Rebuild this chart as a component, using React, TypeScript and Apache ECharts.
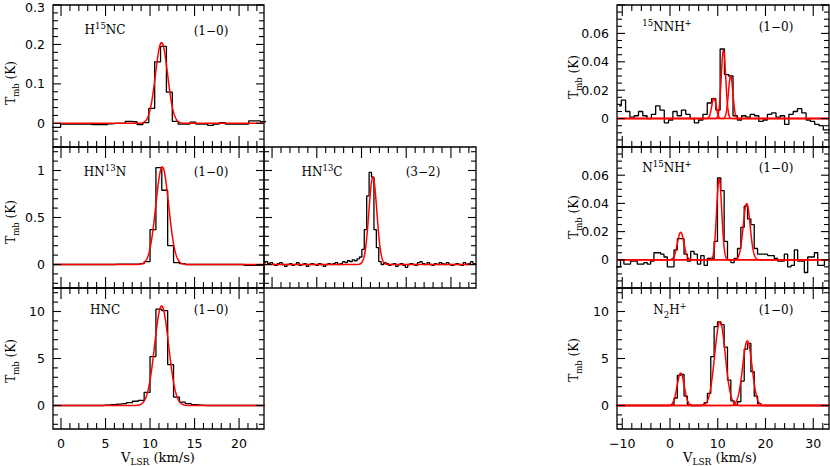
import React, { useEffect, useRef } from "react";
import * as echarts from "echarts";

// ================= DATA =================
// Each spectrum: centre of first channel (km/s), channel width (km/s), Tmb values (K)
const hncStart = -0.89;
const hncWidth = 0.66;
const hncTmb = [0, 0, 0, 0, 0, 0, 0, 0, 0, 0.05, 0.1, 0.15, 0.2, 0.3, 0.45, 0.55, 1.4, 5.2, 10.25, 10.1, 4.35, 0.9, 0.35, 0.2, 0.1, 0.05, 0, 0, 0, 0, 0, 0, 0, 0, 0, 0, 0];
// Gaussian fit components: [amplitude K, centre km/s, FWHM km/s]
const hncFit = [[10.6, 11.3, 1.85]];

const hn13nStart = -0.89;
const hn13nWidth = 0.66;
const hn13nTmb = [0, 0, 0, 0, 0, 0, 0, 0, 0, 0, 0, 0.005, 0.005, 0.005, 0.005, 0.01, 0.03, 0.37, 1.03, 0.79, 0.2, 0.02, 0.01, 0, 0, 0, 0, 0, 0, 0, 0, 0, 0, -0.01, -0.01, -0.01, -0.01];
const hn13nFit = [[1.04, 11.37, 1.7]];

const h15ncStart = -1.03;
const h15ncWidth = 0.66;
const h15ncTmb = [-0.01, -0.01, -0.002, -0.002, -0.002, -0.002, -0.002, -0.003, -0.003, -0.003, -0.001, 0, 0, 0.005, 0.004, -0.003, 0.002, 0.038, 0.156, 0.195, 0.079, 0.005, -0.002, -0.002, 0.003, -0.002, -0.002, -0.005, -0.002, 0.002, -0.002, -0.002, -0.002, -0.002, 0.006, 0.006, 0.004, 0.004];
const h15ncFit = [[0.205, 11.29, 1.6]];

const hn13cStart = -0.895;
const hn13cWidth = 0.27;
const hn13cTmb = [0.02, 0.03, 0.01, 0.02, 0.0, -0.01, 0.01, 0.02, 0.0, -0.02, 0.0, 0.01, -0.01, 0.0, 0.02, -0.01, 0.0, 0.01, -0.02, 0.0, 0.01, 0.0, -0.01, 0.01, 0.0, -0.02, 0.0, 0.01, 0.0, 0.01, 0.02, 0.0, 0.01, 0.03, 0.02, 0.04, 0.03, 0.05, 0.04,
  0.06, 0.08, 0.16, 0.37, 0.73, 0.98, 0.93, 0.37, 0.18, 0.03,
  0.0, 0.02, 0.01, -0.01, 0.0, 0.01, -0.02, 0.0, 0.01, -0.01, -0.03, 0.0, 0.01, 0.0, -0.01, 0.02, 0.03, 0.01, 0.0, 0.02, 0.0, -0.01, 0.01, 0.0, 0.02, 0.01, 0.0, 0.02, 0.0, -0.01, 0.0, 0.01, 0.0, -0.01, 0.02, 0.0, 0.01, 0.03, 0.01, 0.0];
const hn13cFit = [[0.93, 11.27, 1.05]];

const n15nnhStart = -10.65;
const n15nnhWidth = 0.9;
const n15nnhTmb = [0.009, 0.013, 0.005, 0.001, 0.002, 0.005, 0.002, 0, 0.003, 0.009, 0.006, -0.003, -0.001, 0.005, 0.002, 0.006, 0.003, 0, -0.003, -0.001, 0.003, 0.011, 0.014, 0.006, 0.049, 0.031, 0.03, 0.002, -0.001, 0.002, 0.001, 0.003, 0.002, -0.002, -0.001, 0.003, 0.004, 0.001, 0.002, -0.004, 0.003, 0.005, 0.007, 0.004, -0.001, -0.002, -0.004, -0.005, -0.008, -0.008];
const n15nnhFit = [[0.0144, 9.2, 1.1], [0.0485, 11.2, 1.1], [0.03, 12.7, 1.1]];

const nn15hStart = -11.41;
const nn15hWidth = 0.7;
const nn15hTmb = [-0.005, -0.005, 0.0, -0.003, -0.003, -0.001, -0.001, -0.003, -0.003, -0.002, -0.003, -0.001, 0.005, 0.005, 0.004, 0.002, -0.005, -0.005, 0.007, 0.015, 0.015, 0.004,
  -0.001, 0.006, 0.004, -0.003, 0.003, -0.004, 0.001, 0.001, 0.013, 0.058, 0.049, 0.013, 0.0, -0.002, 0.001, 0.008, 0.023, 0.038, 0.029, 0.025, 0.008,
  0.004, 0.004, 0.004, 0.003, 0.003, 0.001, -0.001, -0.001, 0.004, -0.005, -0.004, 0.007, -0.001, -0.001, -0.009, 0.002, 0.002, 0.005, -0.004, -0.004, 0.0, 0.0];
const nn15hFit = [[0.0196, 2.24, 1.6], [0.0577, 10.3, 1.26], [0.04, 16.06, 1.7]];

const n2hStart = -11.41;
const n2hWidth = 0.7;
const n2hTmb = [0, 0, 0, 0, 0, 0, 0, 0, 0, 0, 0, 0, 0, 0, 0, 0, 0,
  0.05, 0.8, 3.2, 3.3, 1.0, 0.1, 0, 0, 0, 0.05, 0.3, 1.3, 5.2, 8.4, 8.9, 8.6, 6.2, 2.7, 0.5, 0.1, 0.4, 2.6, 6.0, 6.6, 3.6, 1.0, 0.2,
  0, 0, 0, 0, 0, 0, 0, 0, 0, 0, 0, 0, 0, 0, 0, 0, 0, 0, 0, 0, 0];
const n2hFit = [[3.46, 2.24, 1.75], [8.93, 10.47, 2.6], [6.89, 16.2, 2.3]];

// Tick label values
const leftXLabels = [0, 5, 10, 15, 20];
const rightXLabels = [-10, 0, 10, 20, 30];
const h15ncYLabels = [0, 0.1, 0.2, 0.3];
const hn13nYLabels = [0, 0.5, 1];
const hncYLabels = [0, 5, 10];
const n15nnhYLabels = [0, 0.02, 0.04, 0.06];
const nn15hYLabels = [0, 0.02, 0.04, 0.06];
const n2hYLabels = [0, 5, 10];

// ================= LAYOUT =================
const LX = { min: -0.9, max: 22.8, major: 5, minor: 1 };
const RX = { min: -11.1, max: 33.3, major: 10, minor: 2 };

const panels = [
  { left: 53, top: 5, width: 211, height: 142, x: LX, y: { min: -0.06, max: 0.3, major: 0.1, minor: 0.02 }, start: h15ncStart, dv: h15ncWidth, tmb: h15ncTmb, fit: h15ncFit, xl: null, yl: h15ncYLabels },
  { left: 53, top: 147, width: 211, height: 141, x: LX, y: { min: -0.25, max: 1.25, major: 0.5, minor: 0.1 }, start: hn13nStart, dv: hn13nWidth, tmb: hn13nTmb, fit: hn13nFit, xl: null, yl: hn13nYLabels },
  { left: 53, top: 288, width: 211, height: 141, x: LX, y: { min: -2.5, max: 12.5, major: 5, minor: 1 }, start: hncStart, dv: hncWidth, tmb: hncTmb, fit: hncFit, xl: leftXLabels, yl: hncYLabels },
  { left: 264, top: 147, width: 212, height: 141, x: LX, y: { min: -0.25, max: 1.25, major: 0.5, minor: 0.1 }, start: hn13cStart, dv: hn13cWidth, tmb: hn13cTmb, fit: hn13cFit, xl: null, yl: null },
  { left: 617, top: 5, width: 212, height: 142, x: RX, y: { min: -0.02, max: 0.08, major: 0.02, minor: 0.005 }, start: n15nnhStart, dv: n15nnhWidth, tmb: n15nnhTmb, fit: n15nnhFit, xl: null, yl: n15nnhYLabels },
  { left: 617, top: 147, width: 212, height: 141, x: RX, y: { min: -0.02, max: 0.08, major: 0.02, minor: 0.005 }, start: nn15hStart, dv: nn15hWidth, tmb: nn15hTmb, fit: nn15hFit, xl: null, yl: nn15hYLabels },
  { left: 617, top: 288, width: 212, height: 141, x: RX, y: { min: -2.5, max: 12.5, major: 5, minor: 1 }, start: n2hStart, dv: n2hWidth, tmb: n2hTmb, fit: n2hFit, xl: rightXLabels, yl: n2hYLabels },
];

const SERIF = "DejaVu Serif";
const SANS = "DejaVu Sans";

const richTitle = {
  a: { fontFamily: SERIF, fontSize: 12, lineHeight: 18 },
  s: { fontFamily: SERIF, fontSize: 8.5, lineHeight: 9, verticalAlign: "top" },
  b: { fontFamily: SERIF, fontSize: 8.5, lineHeight: 9, verticalAlign: "bottom" },
};
const richAxis = {
  a: { fontFamily: SERIF, fontSize: 13, lineHeight: 19 },
  b: { fontFamily: SERIF, fontSize: 9, lineHeight: 10, verticalAlign: "bottom" },
};
const richTmb = {
  a: { fontFamily: SERIF, fontSize: 12, lineHeight: 18 },
  b: { fontFamily: SERIF, fontSize: 8.5, lineHeight: 9, verticalAlign: "bottom" },
};
const richTick = {
  top: { fontFamily: SANS, fontSize: 12.5, padding: [4, 0, 0, 0] },
};

function label(x: number, y: number, text: string, rich: any, rotate = false) {
  return {
    type: "text",
    x,
    y,
    rotation: rotate ? Math.PI / 2 : 0,
    silent: true,
    z: 20,
    style: {
      text,
      rich,
      fill: "#000",
      font: `12px ${SERIF}`,
      align: "center",
      verticalAlign: "middle",
      textAlign: "center",
      textVerticalAlign: "middle",
    },
  };
}

function tickValues(min: number, max: number, step: number) {
  const out: number[] = [];
  const k0 = Math.ceil(min / step - 1e-9);
  const k1 = Math.floor(max / step + 1e-9);
  for (let k = k0; k <= k1; k++) out.push(+(k * step).toFixed(6));
  return out;
}
const isMult = (v: number, m: number) => Math.abs(v / m - Math.round(v / m)) < 1e-6;

function gauss(comp: number[], v: number) {
  const [a, c, w] = comp;
  return a * Math.exp((-4 * Math.LN2 * (v - c) * (v - c)) / (w * w));
}

const fmt = (v: number) => String(v).replace("-", "\u2212");

function buildOption() {
  const grid: any[] = [];
  const xAxis: any[] = [];
  const yAxis: any[] = [];
  const series: any[] = [];

  panels.forEach((p, i) => {
    grid.push({ left: p.left, top: p.top, width: p.width, height: p.height, show: true, borderColor: "#000", borderWidth: 1.3, backgroundColor: "transparent", containLabel: false, outerBoundsMode: "none" });
    xAxis.push({
      type: "value", gridIndex: i, min: p.x.min, max: p.x.max,
      axisLine: { show: false }, axisTick: { show: false }, splitLine: { show: false },
      axisLabel: p.xl ? { show: true, customValues: p.xl, margin: 8, color: "#000", fontFamily: SANS, fontSize: 12.5, formatter: fmt } : { show: false },
    });
    const ymaxLabel = p.yl ? p.yl[p.yl.length - 1] : null;
    yAxis.push({
      type: "value", gridIndex: i, min: p.y.min, max: p.y.max,
      axisLine: { show: false }, axisTick: { show: false }, splitLine: { show: false },
      axisLabel: p.yl
        ? {
            show: true, customValues: p.yl, margin: 8, color: "#000", fontFamily: SANS, fontSize: 12.5, rich: richTick,
            formatter: (v: number) => (Math.abs(v - p.y.max) < 1e-9 && v === ymaxLabel ? `{top|${fmt(v)}}` : fmt(v)),
          }
        : { show: false },
    });

    // observed spectrum, histogram style
    series.push({
      type: "line", xAxisIndex: i, yAxisIndex: i, step: "middle", symbol: "none", showSymbol: false, silent: true, clip: true, z: 2,
      lineStyle: { color: "#000", width: 1.3 },
      data: p.tmb.map((t, k) => [p.start + k * p.dv, t]),
    });
    // gaussian fit components
    p.fit.forEach((comp) => {
      const pts: number[][] = [];
      for (let v = p.x.min; v <= p.x.max + 1e-9; v += 0.04) pts.push([v, gauss(comp, v)]);
      series.push({
        type: "line", xAxisIndex: i, yAxisIndex: i, symbol: "none", showSymbol: false, silent: true, clip: true, z: 3,
        lineStyle: { color: "#ff0000", width: 1.5 }, data: pts,
      });
    });
    // ticks on all four sides, pointing inward
    series.push({
      type: "custom", xAxisIndex: i, yAxisIndex: i, silent: true, clip: false, z: 10,
      data: [[p.x.min, p.y.min]],
      renderItem: (params: any, api: any) => {
        const cs = params.coordSys;
        const L = cs.x, T = cs.y, R = cs.x + cs.width, B = cs.y + cs.height;
        const children: any[] = [];
        const ln = (x1: number, y1: number, x2: number, y2: number) =>
          children.push({ type: "line", shape: { x1, y1, x2, y2 }, style: { stroke: "#000", lineWidth: 1.1 } });
        tickValues(p.x.min, p.x.max, p.x.minor).forEach((v) => {
          const px = api.coord([v, p.y.min])[0];
          const len = isMult(v, p.x.major) ? 11 : 6;
          ln(px, B, px, B - len);
          ln(px, T, px, T + len);
        });
        tickValues(p.y.min, p.y.max, p.y.minor).forEach((v) => {
          const py = api.coord([p.x.min, v])[1];
          const len = isMult(v, p.y.major) ? 8 : 5;
          ln(L, py, L + len, py);
          ln(R, py, R - len, py);
        });
        return { type: "group", children };
      },
    });
  });

  const graphic = [
    label(105, 30, "{a|H}{s|15}{a|NC}", richTitle),
    label(211, 31, "{a|(1\u22120)}", richTitle),
    label(105, 172, "{a|HN}{s|13}{a|N}", richTitle),
    label(211, 172, "{a|(1\u22120)}", richTitle),
    label(105, 310, "{a|HNC}", richTitle),
    label(211, 310, "{a|(1\u22120)}", richTitle),
    label(322, 172, "{a|HN}{s|13}{a|C}", richTitle),
    label(423, 172, "{a|(3\u22122)}", richTitle),
    label(667, 27, "{s|15}{a|NNH}{s|+}", richTitle),
    label(776, 27, "{a|(1\u22120)}", richTitle),
    label(667, 168, "{a|N}{s|15}{a|NH}{s|+}", richTitle),
    label(776, 168, "{a|(1\u22120)}", richTitle),
    label(670, 310, "{a|N}{b|2}{a|H}{s|+}", richTitle),
    label(776, 310, "{a|(1\u22120)}", richTitle),
    label(11, 83, "{a|T}{b|mb}{a| (K)}", richTmb, true),
    label(11, 222, "{a|T}{b|mb}{a| (K)}", richTmb, true),
    label(11, 361, "{a|T}{b|mb}{a| (K)}", richTmb, true),
    label(574, 77, "{a|T}{b|mb}{a| (K)}", richTmb, true),
    label(574, 217, "{a|T}{b|mb}{a| (K)}", richTmb, true),
    label(574, 360, "{a|T}{b|mb}{a| (K)}", richTmb, true),
    label(158, 457, "{a|V}{b|LSR}{a| (km/s)}", richAxis),
    label(720, 457, "{a|V}{b|LSR}{a| (km/s)}", richAxis),
  ];

  return { animation: false, backgroundColor: "#fff", grid, xAxis, yAxis, series, graphic };
}

export default function App() {
  const ref = useRef<HTMLDivElement>(null);
  useEffect(() => {
    if (!ref.current) return;
    const chart = echarts.init(ref.current, null, { renderer: "svg" });
    chart.setOption(buildOption() as any);
    return () => chart.dispose();
  }, []);
  return <div ref={ref} style={{ position: "absolute", left: 0, top: 0, width: 830, height: 466, background: "#fff" }} />;
}
